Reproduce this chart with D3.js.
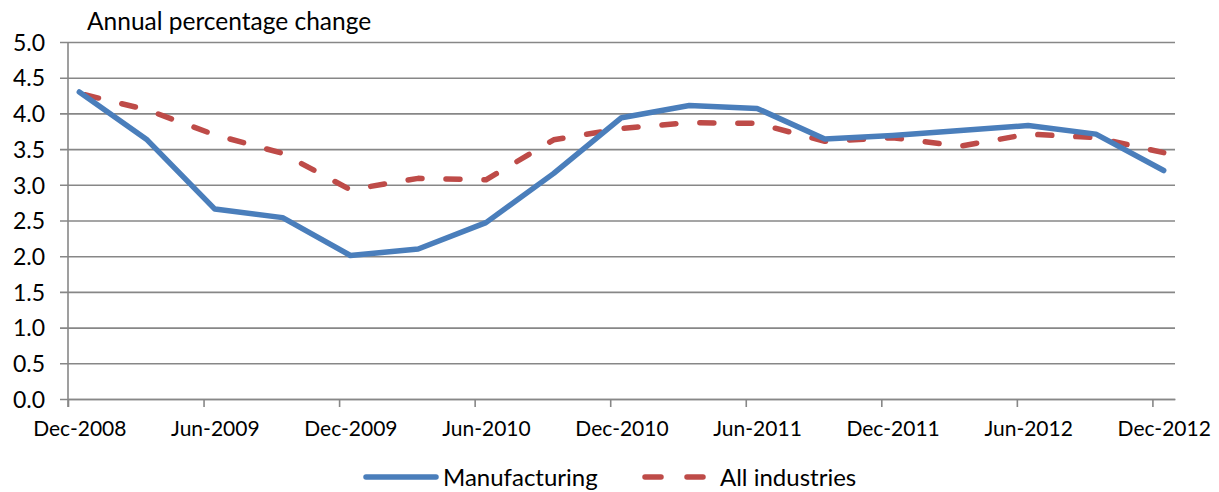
<!DOCTYPE html>
<html>
<head>
<meta charset="utf-8">
<script src="https://cdn.jsdelivr.net/npm/d3@7"></script>
<style>
  html, body { margin: 0; padding: 0; background: #fff; }
  svg { display: block; font-family: Lato, "Open Sans", sans-serif; }
</style>
</head>
<body>
<div id="chart"></div>
<script>
// ---- Data ----
const quarters = ["Sep-2008","Dec-2008","Mar-2009","Jun-2009","Sep-2009","Dec-2009","Mar-2010","Jun-2010","Sep-2010",
                  "Dec-2010","Mar-2011","Jun-2011","Sep-2011","Dec-2011","Mar-2012","Jun-2012","Sep-2012","Dec-2012"];
const manufacturing = [null, 4.30, 3.63, 2.66, 2.54, 2.01, 2.10, 2.47, 3.16,
                       3.94, 4.11, 4.07, 3.64, 3.69, 3.76, 3.83, 3.71, 3.20];
const allIndustries = [4.02, 4.28, 4.05, 3.70, 3.44, 2.93, 3.09, 3.07, 3.63,
                       3.79, 3.87, 3.86, 3.61, 3.66, 3.54, 3.71, 3.66, 3.45];
const xTickLabels = ["Dec-2008","Jun-2009","Dec-2009","Jun-2010","Dec-2010","Jun-2011","Dec-2011","Jun-2012","Dec-2012"];
const yTicks = [0,0.5,1,1.5,2,2.5,3,3.5,4,4.5,5];
const yTitle = "Annual percentage change";
const seriesNames = ["Manufacturing","All industries"];

// ---- Layout ----
const W = 1219, H = 492;
const M = {left: 68, right: 1219 - 1175, top: 42, bottom: 492 - 399};
const monthNames = ["Jan","Feb","Mar","Apr","May","Jun","Jul","Aug","Sep","Oct","Nov","Dec"];
function monthIndex(lbl) {
  const [m, y] = lbl.split("-");
  return (+y - 2008) * 12 + monthNames.indexOf(m) - 11; // 0 = Dec-2008
}
const nMonths = monthIndex("Dec-2012") + 1;

const svg = d3.select("#chart").append("svg").attr("width", W).attr("height", H);

const x = d3.scaleLinear().domain([0, nMonths]).range([M.left, W - M.right]);
const y = d3.scaleLinear().domain([0, 5]).range([H - M.bottom, M.top]);

const gridColor = "#878787";

// horizontal gridlines + y tick marks
svg.append("g")
  .attr("transform", `translate(${M.left},0)`)
  .call(d3.axisLeft(y).tickValues(yTicks).tickFormat(d3.format(".1f"))
        .tickSize(-(W - M.right - M.left)).tickSizeOuter(0).tickPadding(23))
  .call(g => g.select(".domain").remove())
  .call(g => g.selectAll(".tick line").attr("stroke", gridColor).attr("stroke-width", 1.6).attr("x1", -8))
  .call(g => g.selectAll(".tick text").attr("fill", "#000").attr("font-size", 23)
        .attr("font-family", "Lato, sans-serif").attr("x", -23).attr("dy", "0.36em"));

// y axis line
svg.append("line")
  .attr("x1", M.left).attr("x2", M.left)
  .attr("y1", y(5)).attr("y2", y(0) + 8)
  .attr("stroke", gridColor).attr("stroke-width", 1.6);

// x axis with tick marks (labels centred on the month slot)
const xTickVals = xTickLabels.map(monthIndex);
const halfMonth = x(0.5) - x(0);
svg.append("g")
  .attr("transform", `translate(0,${y(0)})`)
  .call(d3.axisBottom(x).tickValues(xTickVals).tickFormat((d, i) => xTickLabels[i])
        .tickSize(8).tickSizeOuter(0).tickPadding(14))
  .call(g => g.select(".domain").attr("stroke", gridColor).attr("stroke-width", 1.6))
  .call(g => g.selectAll(".tick line").attr("stroke", gridColor).attr("stroke-width", 1.6))
  .call(g => g.selectAll(".tick text").attr("fill", "#000").attr("font-size", 21)
        .attr("font-family", "Lato, sans-serif").attr("x", halfMonth));

// y title
svg.append("text")
  .attr("x", 87).attr("y", 30)
  .attr("font-size", 24.5).attr("fill", "#000")
  .text(yTitle);

// clip
svg.append("clipPath").attr("id", "plotclip")
  .append("rect").attr("x", M.left).attr("y", 0)
  .attr("width", W - M.right - M.left).attr("height", H - M.bottom);

const px = lbl => x(monthIndex(lbl) + 0.5);
const line = d3.line()
  .defined(d => d.v != null)
  .x(d => px(d.q)).y(d => y(d.v));

const blue = "#4A7EBB", red = "#BE4B48";
const dash = "14,24";

const plot = svg.append("g").attr("clip-path", "url(#plotclip)");
plot.append("path")
  .datum(quarters.map((q, i) => ({q, v: allIndustries[i]})))
  .attr("fill", "none").attr("stroke", red).attr("stroke-width", 5.5)
  .attr("stroke-dasharray", dash).attr("stroke-linecap", "round").attr("stroke-linejoin", "round")
  .attr("d", line);
plot.append("path")
  .datum(quarters.map((q, i) => ({q, v: manufacturing[i]})))
  .attr("fill", "none").attr("stroke", blue).attr("stroke-width", 5.5)
  .attr("stroke-linecap", "round").attr("stroke-linejoin", "round")
  .attr("d", line);

// legend
const leg = svg.append("g");
const ly = 477;
leg.append("line").attr("x1", 366).attr("x2", 436).attr("y1", ly).attr("y2", ly)
  .attr("stroke", blue).attr("stroke-width", 5.5).attr("stroke-linecap", "round");
leg.append("text").attr("x", 443).attr("y", ly).attr("dy", "0.36em")
  .attr("font-size", 24).text(seriesNames[0]);
leg.append("line").attr("x1", 645).attr("x2", 705).attr("y1", ly).attr("y2", ly)
  .attr("stroke", red).attr("stroke-width", 5.5).attr("stroke-linecap", "round")
  .attr("stroke-dasharray", "16,26");
leg.append("text").attr("x", 720).attr("y", ly).attr("dy", "0.36em")
  .attr("font-size", 24).text(seriesNames[1]);
</script>
</body>
</html>
